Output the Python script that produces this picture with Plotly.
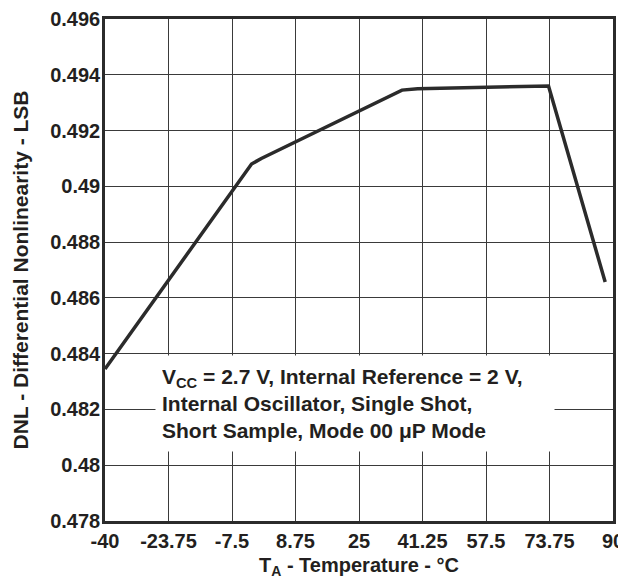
import plotly.graph_objects as go

temperature = [-40, -2.5, 0, 36, 40, 57.5, 73.5, 88]
dnl = [0.48345, 0.4908, 0.4910, 0.49345, 0.4935, 0.49356, 0.4936, 0.48657]

x_ticks = [-40, -23.75, -7.5, 8.75, 25, 41.25, 57.5, 73.75, 90]
x_tick_labels = ["-40", "-23.75", "-7.5", "8.75", "25", "41.25", "57.5", "73.75", "90"]
y_ticks = [0.478, 0.48, 0.482, 0.484, 0.486, 0.488, 0.49, 0.492, 0.494, 0.496]
y_tick_labels = ["0.478", "0.48", "0.482", "0.484", "0.486", "0.488", "0.49", "0.492", "0.494", "0.496"]

note = ("V<sub>CC</sub> = 2.7 V, Internal Reference = 2 V,<br>"
        "Internal Oscillator, Single Shot,<br>"
        "Short Sample, Mode 00 μP Mode")

FONT = "Liberation Sans, Arial, Helvetica, sans-serif"
INK = "#231f20"

fig = go.Figure()
fig.add_trace(go.Scatter(
    x=temperature, y=dnl, mode="lines",
    line=dict(color="#2b2b2b", width=3.5),
    hoverinfo="skip", showlegend=False,
))

# page body adds an 8px offset, so the figure is sized to fit the window
fig.update_layout(
    width=618, height=573,
    margin=dict(l=97, r=13, t=11, b=60),
    paper_bgcolor="white", plot_bgcolor="white",
    font=dict(family=FONT, color=INK, size=20, weight="bold"),
    xaxis=dict(
        range=[-40, 90], tickmode="array", tickvals=x_ticks, ticktext=x_tick_labels,
        showgrid=True, gridcolor="#3a3a3a", gridwidth=1,
        showline=True, linecolor="#2b2b2b", linewidth=2.5, mirror=True,
        ticks="", zeroline=False, ticklabelstandoff=0, automargin=False,
        ticklabeloverflow="allow",
        tickfont=dict(family=FONT, size=20, color=INK, weight="bold"),
        title=dict(text="T<sub>A</sub> - Temperature - °C", standoff=8,
                   font=dict(family=FONT, size=20, color=INK, weight="bold")),
    ),
    yaxis=dict(
        range=[0.478, 0.496], tickmode="array", tickvals=y_ticks, ticktext=y_tick_labels,
        showgrid=True, gridcolor="#3a3a3a", gridwidth=1,
        showline=True, linecolor="#2b2b2b", linewidth=2.5, mirror=True,
        ticks="", zeroline=False, ticklabelstandoff=-2, automargin=False,
        ticklabeloverflow="allow",
        tickfont=dict(family=FONT, size=20, color=INK, weight="bold"),
        title=dict(text="DNL - Differential Nonlinearity - LSB", standoff=16,
                   font=dict(family=FONT, size=21, color=INK, weight="bold")),
    ),
    annotations=[dict(
        text=note, xref="paper", yref="paper", x=0.098, y=0.331,
        xanchor="left", yanchor="top", align="left", showarrow=False,
        bgcolor="white", borderpad=6, width=386, height=83, valign="middle",
        font=dict(family=FONT, size=21, color=INK, weight="bold"),
    )],
)

fig.write_html("out.html")
